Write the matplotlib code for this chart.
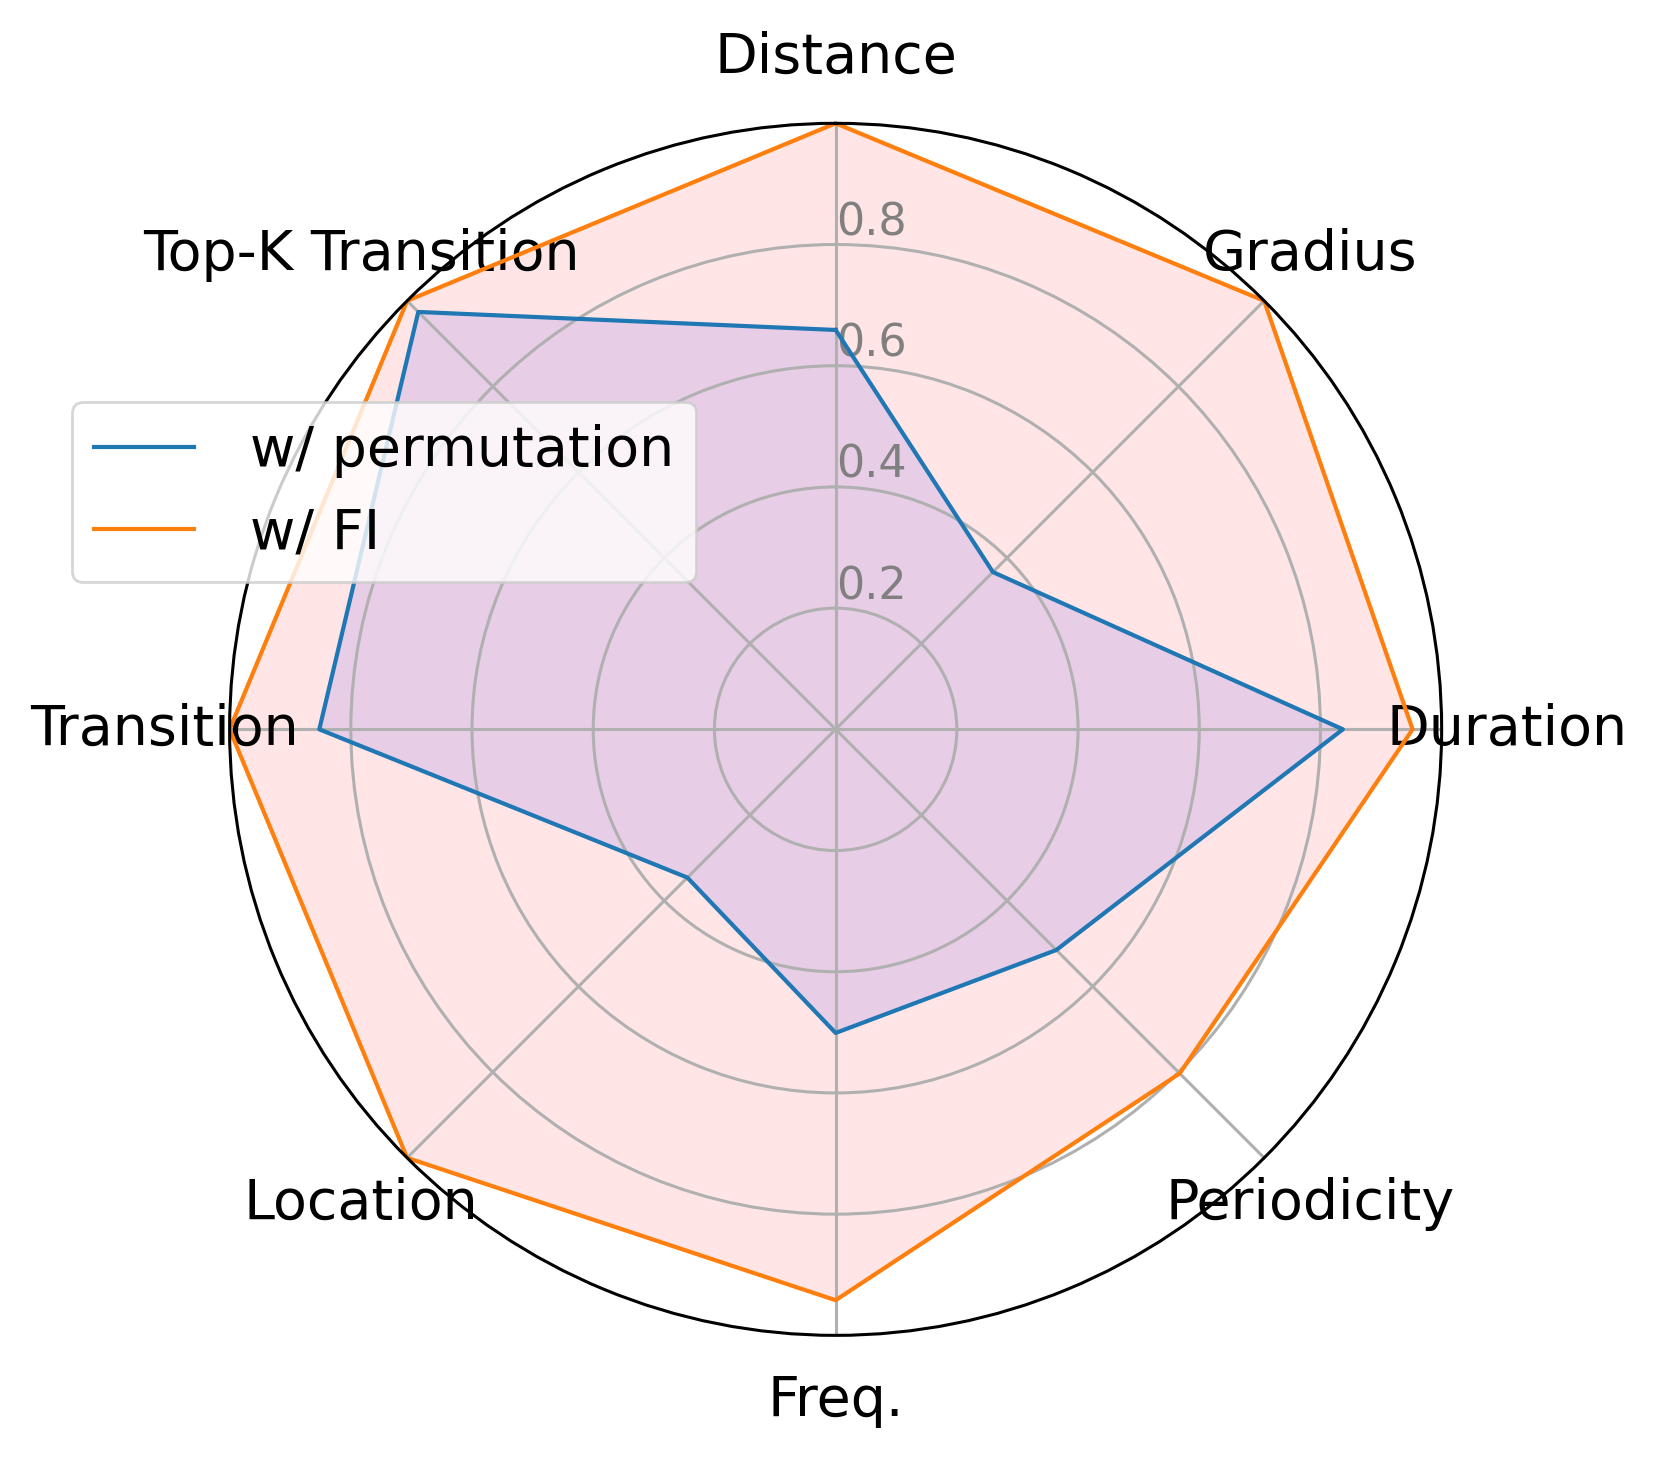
import numpy as np
import matplotlib
matplotlib.use("Agg")
import matplotlib.pyplot as plt

# feature groups, clockwise from the top
categories = ["Distance", "Gradius", "Duration", "Periodicity",
              "Freq.", "Location", "Transition", "Top-K Transition"]
perm_scores = [0.659, 0.367, 0.837, 0.515, 0.501, 0.346, 0.852, 0.974]
fi_scores = [1.0, 1.0, 0.952, 0.803, 0.942, 1.0, 1.0, 1.0]
rticks = [0.2, 0.4, 0.6, 0.8]

angles = np.linspace(0, 2 * np.pi, len(categories), endpoint=False).tolist()
angles_closed = angles + angles[:1]
perm_closed = perm_scores + perm_scores[:1]
fi_closed = fi_scores + fi_scores[:1]

fig = plt.figure(figsize=(1659 / 200, 1461 / 200), dpi=200)
ax = fig.add_axes([0.1384, 0.0860, 0.7306, 0.8296], polar=True)
ax.set_theta_offset(np.pi / 2)
ax.set_theta_direction(-1)

ax.plot(angles_closed, perm_closed, color="tab:blue", linewidth=1.5, label="w/ permutation")
ax.fill(angles_closed, perm_closed, color="blue", alpha=0.1)
ax.plot(angles_closed, fi_closed, color="tab:orange", linewidth=1.5, label="w/ FI")
ax.fill(angles_closed, fi_closed, color="red", alpha=0.1)

ax.set_ylim(0, 1.0)
ax.set_thetagrids(np.degrees(angles), categories, fontsize=20)
ax.tick_params(axis="x", pad=13)
ax.set_rgrids(rticks, [str(t) for t in rticks], color="grey", fontsize=16)
ax.set_rlabel_position(0)
ax.grid(color="#b0b0b0", linewidth=1.1)
ax.spines["polar"].set_linewidth(1.1)

fig.legend(loc="upper left", bbox_to_anchor=(72 / 1659, 1 - 402 / 1461),
           borderaxespad=0, fontsize=20, handlelength=1.8, handletextpad=1.0)

fig.savefig("out.png", dpi=200)
